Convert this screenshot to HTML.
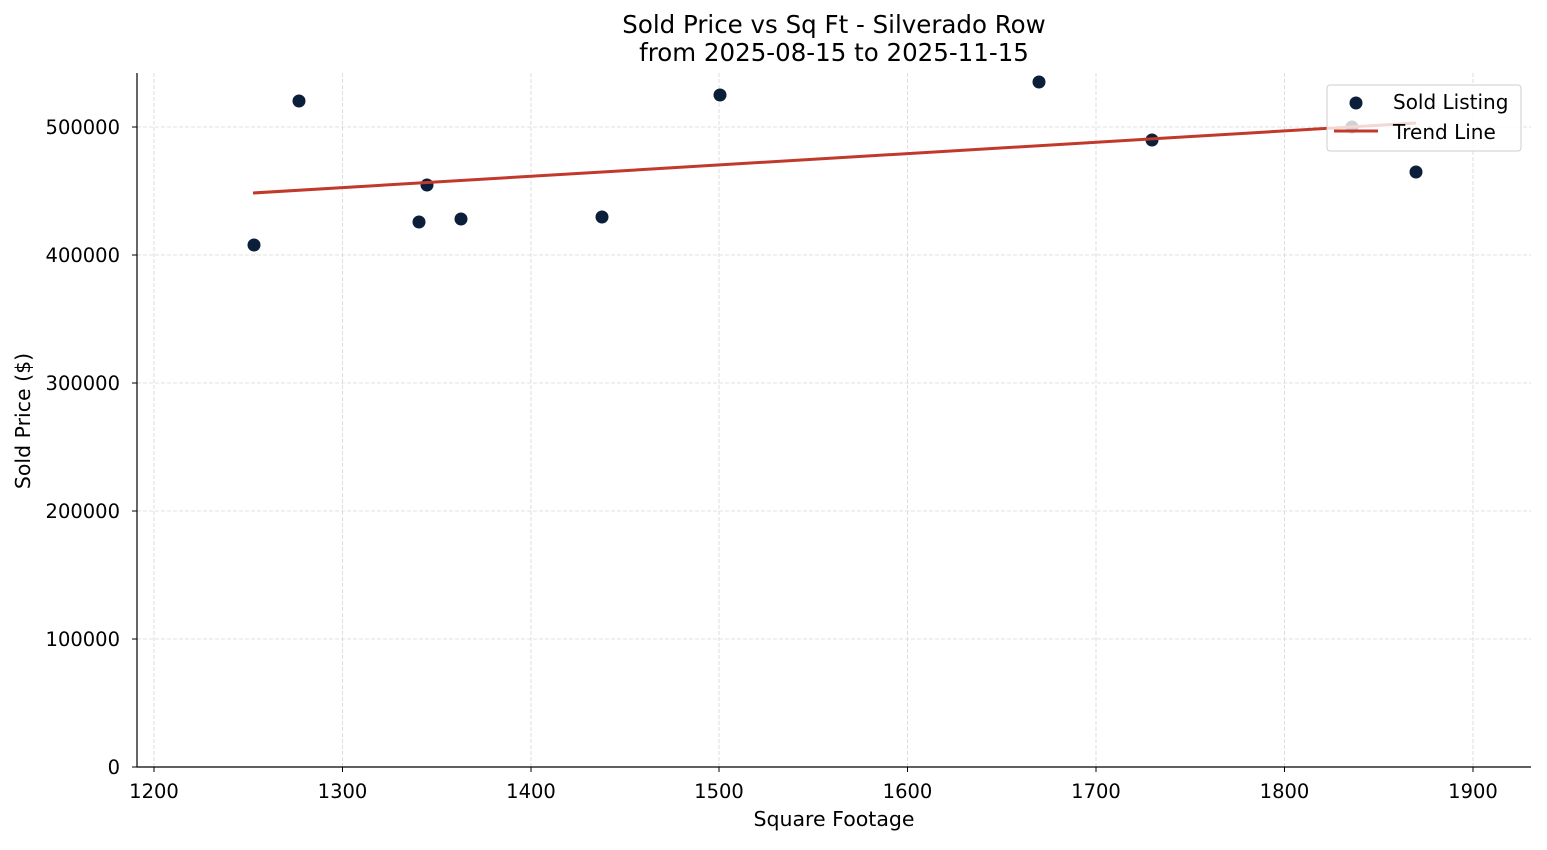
<!DOCTYPE html>
<html><head><style>body{margin:0;background:#fff}</style></head><body>
<svg width="1547" height="845" xmlns="http://www.w3.org/2000/svg" font-family="DejaVu Sans, Liberation Sans, sans-serif">
<rect width="1547" height="845" fill="#fff"/>
<g stroke="#d6d6d6" stroke-width="0.8" stroke-dasharray="4,2">
<line x1="154" y1="73" x2="154" y2="767"/><line x1="342.5" y1="73" x2="342.5" y2="767"/>
<line x1="531" y1="73" x2="531" y2="767"/><line x1="719" y1="73" x2="719" y2="767"/>
<line x1="907.5" y1="73" x2="907.5" y2="767"/><line x1="1096" y1="73" x2="1096" y2="767"/>
<line x1="1284.5" y1="73" x2="1284.5" y2="767"/><line x1="1473" y1="73" x2="1473" y2="767"/>
<line x1="137" y1="639" x2="1531" y2="639"/><line x1="137" y1="511" x2="1531" y2="511"/>
<line x1="137" y1="383" x2="1531" y2="383"/><line x1="137" y1="255" x2="1531" y2="255"/>
<line x1="137" y1="127" x2="1531" y2="127"/>
</g>
<g fill="#0b1f3a">
<circle cx="254" cy="245" r="6.5"/><circle cx="299" cy="101" r="6.5"/><circle cx="419" cy="222" r="6.5"/>
<circle cx="427" cy="185" r="6.5"/><circle cx="461" cy="219" r="6.5"/><circle cx="602" cy="217" r="6.5"/>
<circle cx="720" cy="95" r="6.5"/><circle cx="1039" cy="82" r="6.5"/><circle cx="1152" cy="140" r="6.5"/>
<circle cx="1352" cy="127" r="6.5"/><circle cx="1416" cy="172" r="6.5"/>
</g>
<line x1="253" y1="193" x2="1416" y2="123" stroke="#c0392b" stroke-width="3"/>
<g stroke="#000" stroke-width="1.2">
<line x1="137" y1="73" x2="137" y2="767.5"/><line x1="136.5" y1="767" x2="1531" y2="767"/>
</g>
<g stroke="#000" stroke-width="1">
<line x1="154" y1="767" x2="154" y2="772"/><line x1="342.5" y1="767" x2="342.5" y2="772"/>
<line x1="531" y1="767" x2="531" y2="772"/><line x1="719" y1="767" x2="719" y2="772"/>
<line x1="907.5" y1="767" x2="907.5" y2="772"/><line x1="1096" y1="767" x2="1096" y2="772"/>
<line x1="1284.5" y1="767" x2="1284.5" y2="772"/><line x1="1473" y1="767" x2="1473" y2="772"/>
<line x1="132" y1="767" x2="137" y2="767"/><line x1="132" y1="639" x2="137" y2="639"/>
<line x1="132" y1="511" x2="137" y2="511"/><line x1="132" y1="383" x2="137" y2="383"/>
<line x1="132" y1="255" x2="137" y2="255"/><line x1="132" y1="127" x2="137" y2="127"/>
</g>
<g font-size="19.5" fill="#000" text-anchor="middle">
<text x="154" y="798">1200</text><text x="342.5" y="798">1300</text><text x="531" y="798">1400</text>
<text x="719" y="798">1500</text><text x="907.5" y="798">1600</text><text x="1096" y="798">1700</text>
<text x="1284.5" y="798">1800</text><text x="1473" y="798">1900</text>
</g>
<g font-size="19.5" fill="#000" text-anchor="end">
<text x="120" y="774">0</text><text x="120" y="646">100000</text><text x="120" y="518">200000</text>
<text x="120" y="390">300000</text><text x="120" y="262">400000</text><text x="120" y="134">500000</text>
</g>
<text x="834" y="826" font-size="20.5" text-anchor="middle">Square Footage</text>
<text transform="translate(30,421) rotate(-90)" font-size="20.5" text-anchor="middle">Sold Price ($)</text>
<text x="834" y="33" font-size="24.5" text-anchor="middle">Sold Price vs Sq Ft - Silverado Row</text>
<text x="834" y="61" font-size="24.5" text-anchor="middle">from 2025-08-15 to 2025-11-15</text>
<rect x="1327" y="85" width="194" height="66" rx="3" fill="#fff" fill-opacity="0.8" stroke="#ccc" stroke-width="1"/>
<circle cx="1356" cy="103" r="6.5" fill="#0b1f3a"/>
<line x1="1334" y1="131" x2="1378" y2="131" stroke="#c0392b" stroke-width="3"/>
<text x="1393" y="109" font-size="20">Sold Listing</text>
<text x="1393" y="139" font-size="20">Trend Line</text>
</svg>
</body></html>
